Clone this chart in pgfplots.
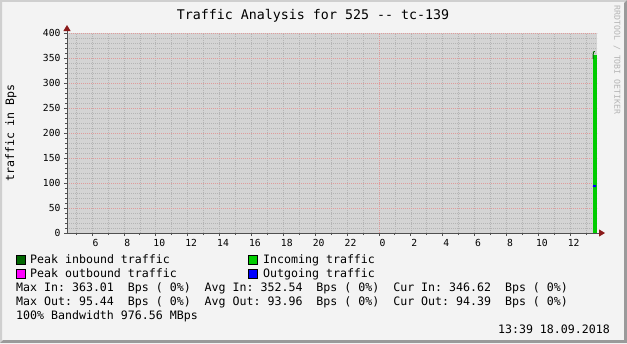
\documentclass[border=0pt]{standalone}
\usepackage{pgfplots}
\pgfplotsset{compat=1.18}
\usepackage{fontspec}
\setmainfont{DejaVu Sans Mono}
\usetikzlibrary{arrows.meta}
\definecolor{bg}{HTML}{F3F3F3}
\definecolor{shadeA}{HTML}{CFCFCF}
\definecolor{shadeB}{HTML}{9A9A9A}
\definecolor{canvas}{HTML}{D4D4D4}
\definecolor{gridgray}{HTML}{B4B4B4}
\definecolor{gridred}{HTML}{E09A9A}
\definecolor{axisgray}{HTML}{505050}
\definecolor{arrowred}{HTML}{8B1A1A}
\definecolor{peakin}{HTML}{006600}
\definecolor{incol}{HTML}{00CC00}
\definecolor{peakout}{HTML}{FF00FF}
\definecolor{outcol}{HTML}{0000FF}
\definecolor{wm}{HTML}{B5B5B5}
\newcommand\lf{\fontsize{11.6bp}{14bp}\selectfont}
\newcommand\tf{\fontsize{13.3bp}{16bp}\selectfont}
\newcommand\af{\fontsize{9.7bp}{11bp}\selectfont}
\begin{document}
\begin{tikzpicture}[x=1bp,y=1bp]
\useasboundingbox (0,0) rectangle (627,343);
\fill[bg] (0,0) rectangle (627,343);
\fill[shadeA] (0,0) -- (0,343) -- (627,343) -- (625,341) -- (2,341) -- (2,2) -- cycle;
\fill[shadeB] (0,0) -- (627,0) -- (627,343) -- (624,340) -- (624,3) -- (3,3) -- cycle;
\begin{axis}[
  at={(67bp,110bp)}, anchor=south west,
  scale only axis, width=530bp, height=200bp,
  xmin=4.43, xmax=37.68, ymin=0, ymax=400,
  axis background/.style={fill=canvas},
  axis line style={draw=none},
  xtick={6,8,...,36},
  xticklabels={6,8,10,12,14,16,18,20,22,0,2,4,6,8,10,12},
  minor xtick={5,6,...,37},
  ytick={0,50,...,400},
  minor ytick={0,10,...,400},
  xmajorgrids=false, xminorgrids=true,
  ymajorgrids=true, yminorgrids=true,
  major grid style={gridred, line width=0.6bp, dash pattern=on 1bp off 1bp},
  minor grid style={gridgray, line width=0.6bp, dash pattern=on 1bp off 1bp},
  extra x ticks={24}, extra x tick labels={},
  extra x tick style={xmajorgrids=true, major tick length=0pt},
  tick pos=left, tick align=outside,
  major tick length=3bp, minor tick length=2bp,
  tick style={axisgray, line width=0.8bp},
  ticklabel style={font=\af, text=black},
  xticklabel style={xshift=3.5bp},
  /pgf/number format/assume math mode=true,
  clip=false,
]
\addplot[fill=incol, draw=none] coordinates {(37.43,356) (37.66,356)} \closedcycle;
\addplot[peakin, line width=1bp] coordinates {(37.43,348) (37.45,362) (37.55,363)};
\addplot[peakout, line width=1bp] coordinates {(37.43,95.4) (37.62,95.4)};
\addplot[outcol, line width=2bp] coordinates {(37.43,94.4) (37.50,94.0) (37.62,94.0)};
\end{axis}
\draw[axisgray, line width=1bp, -{Triangle[color=arrowred,length=6bp,width=7bp]}] (66,110) -- (605,110);
\draw[axisgray, line width=1bp, -{Triangle[color=arrowred,length=6bp,width=7bp]}] (67,109) -- (67,318);
\node[font=\tf, anchor=base] at (313,324) {Traffic Analysis for 525 -{}- tc-139};
\node[font=\lf, rotate=90] at (11,210) {traffic in Bps};
\node[font=\fontsize{8.2bp}{9bp}\selectfont, text=wm, rotate=-90] at (617,283) {RRDTOOL / TOBI OETIKER};
\draw[fill=peakin, draw=black, line width=0.6bp] (16,79) rectangle (25,88);
\draw[fill=peakout, draw=black, line width=0.6bp] (16,65) rectangle (25,74);
\draw[fill=incol, draw=black, line width=0.6bp] (248.5,79) rectangle (257.5,88);
\draw[fill=outcol, draw=black, line width=0.6bp] (248.5,65) rectangle (257.5,74);
\node[font=\lf, anchor=base west, inner sep=0] at (30,80) {Peak inbound traffic};
\node[font=\lf, anchor=base west, inner sep=0] at (30,66) {Peak outbound traffic};
\node[font=\lf, anchor=base west, inner sep=0] at (263,80) {Incoming traffic};
\node[font=\lf, anchor=base west, inner sep=0] at (263,66) {Outgoing traffic};
\node[font=\lf, anchor=base west, inner sep=0] at (16,52) {Max~In:~363.01~~Bps~(~0\%)~~Avg~In:~352.54~~Bps~(~0\%)~~Cur~In:~346.62~~Bps~(~0\%)};
\node[font=\lf, anchor=base west, inner sep=0] at (16,38) {Max~Out:~95.44~~Bps~(~0\%)~~Avg~Out:~93.96~~Bps~(~0\%)~~Cur~Out:~94.39~~Bps~(~0\%)};
\node[font=\lf, anchor=base west, inner sep=0] at (16,24) {100\%~Bandwidth~976.56~MBps};
\node[font=\lf, anchor=base east, inner sep=0] at (610,10) {13:39 18.09.2018};
\end{tikzpicture}
\end{document}
